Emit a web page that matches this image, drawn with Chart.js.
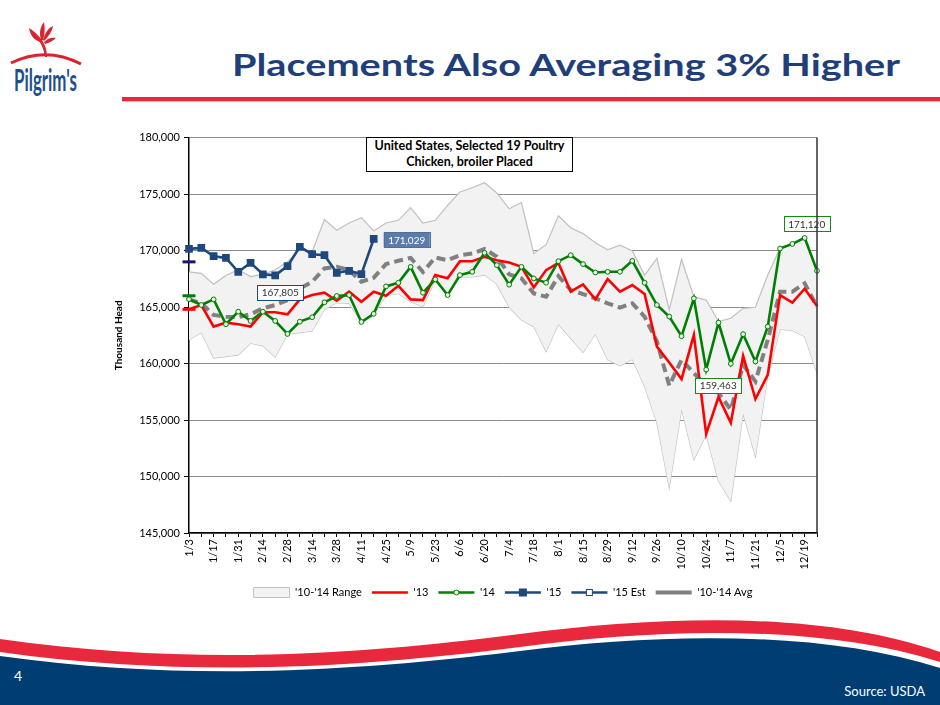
<!DOCTYPE html>
<html>
<head>
<meta charset="utf-8">
<script src="https://cdn.jsdelivr.net/npm/chart.js@4.4.0/dist/chart.umd.min.js"></script>
<style>
  body { margin: 0; width: 940px; height: 705px; background: #fff; position: relative; overflow: hidden; font-family: Lato, "Open Sans", sans-serif; }
  #wrap { position: absolute; left: 100px; top: 127px; width: 740px; height: 490px; }
  #box { position: absolute; left: 366px; top: 137px; width: 205px; height: 33px; border: 1px solid #000; background: #fff;
         font: bold 12.5px Lato, sans-serif; text-align: center; line-height: 16px; color: #000; }
  svg { position: absolute; left: 0; }
</style>
</head>
<body>
<svg width="940" height="110" style="top:0">
  <path d="M11,63 Q46,46 81,64" stroke="#d9242f" stroke-width="3" fill="none"/>
  <path d="M45,57 C44,50 42,45 39,41 L42,40 C45,45 47,50 47,57 Z" fill="#d9242f"/>
  <path d="M40,42 C34,40 30,35 29,28 C34,31 38,35 42,40 Z" fill="#d9242f"/>
  <path d="M41,40 C39,33 40,27 44,22 C45,28 45,34 43,40 Z" fill="#d9242f"/>
  <path d="M43,40 C45,33 48,28 53,26 C52,32 48,37 44,41 Z" fill="#d9242f"/>
  <path d="M44,42 C48,38 52,37 56,38 C53,41 49,43 45,44 Z" fill="#d9242f"/>
  <text x="14" y="91" font-family="Lato, sans-serif" font-weight="bold" font-size="31" fill="#1f4e8c" textLength="63" lengthAdjust="spacingAndGlyphs">Pilgrim's</text>
  <text x="232" y="76" font-family="Lato, sans-serif" font-weight="bold" font-size="30" fill="#1f3f7a" textLength="668" lengthAdjust="spacingAndGlyphs">Placements Also Averaging 3% Higher</text>
  <rect x="122" y="97" width="818" height="4" fill="#e8283c"/>
  <rect x="122" y="101" width="818" height="1" fill="#f5b5bd"/>
</svg>
<svg width="940" height="90" style="top:615px" viewBox="0 615 940 90">
  <path d="M0,639 C200,668 380,652 520,634 C660,616 820,610 940,652 L940,662 C820,624 660,628 520,647 C380,665 200,680 0,652 Z" fill="#e8283c"/>
  <path d="M0,656 C200,684 380,668 520,651 C660,633 820,630 940,668 L940,705 L0,705 Z" fill="#003d73"/>
  <text x="14" y="681" font-family="Lato, sans-serif" font-size="14" fill="#fff">4</text>
  <text x="925" y="696" text-anchor="end" font-family="Lato, sans-serif" font-size="13" fill="#fff">Source:  USDA</text>
</svg>
<div id="wrap"><canvas id="placements"></canvas></div>
<div id="box">United States, Selected 19 Poultry<br>Chicken, broiler Placed</div>
<script>
var weeks = ["1/3","1/10","1/17","1/24","1/31","2/7","2/14","2/21","2/28","3/7","3/14","3/21","3/28","4/4","4/11","4/18",
  "4/25","5/2","5/9","5/16","5/23","5/30","6/6","6/13","6/20","6/27","7/4","7/11","7/18","7/25","8/1","8/8","8/15","8/22",
  "8/29","9/5","9/12","9/19","9/26","10/3","10/10","10/17","10/24","10/31","11/7","11/14","11/21","11/28","12/5","12/12","12/19","12/26"];

var rangeHigh = [168120,167980,167030,167800,168300,167700,167900,168300,169000,170100,169900,172740,171800,172440,172910,171740,
  172440,172680,173800,172440,172680,174000,175180,175560,176000,175100,173700,174250,169740,170520,173080,172020,171500,170700,
  170070,170470,169960,167830,169300,164740,169210,165910,165620,163710,164010,164890,164980,167830,170200,170600,171120,168210];
var rangeLow = [162100,162740,160480,160620,160770,161800,161570,160570,162620,162740,162890,164800,165390,165330,163680,164360,
  166000,166210,165480,165030,167390,166060,167680,167680,167830,167030,165000,163860,163270,161060,163500,162240,160990,162620,
  160330,159800,160390,157980,154750,149020,155980,151510,153720,149600,147830,155570,151800,158900,163040,162920,162390,159160];
var y2013 = [164800,165180,163270,163620,163480,163270,164540,164540,164360,165680,166060,166270,165560,166360,165470,166360,
  166000,166880,165680,165620,167830,167540,169060,169060,169450,169150,168950,168560,166740,168270,168910,166360,167010,165680,
  167480,166360,166950,166150,161500,160100,158630,162540,153780,157040,154750,160680,156860,159000,166060,165390,166620,165100];
var y2014 = [165700,165180,165680,163480,164590,163770,164590,163770,162620,163710,164100,165420,165980,166060,163680,164400,
  166830,167150,168560,166270,167450,166060,167830,168120,169800,168710,166980,168560,167540,167150,169060,169590,168800,168060,
  168120,168120,169090,167150,165180,164160,162420,165770,159463,163620,159980,162600,160180,163270,170180,170590,171120,168210];
var y2015 = [170150,170240,169500,169350,168120,168910,167900,167805,168620,170330,169680,169590,168030,168210,167920,171029];
var avg1014 = [165680,165330,164300,164150,164100,164360,164890,165180,165620,166650,167240,168420,168560,168270,167240,167600,
  168800,169100,169350,168100,169390,169150,169590,169740,170150,169450,167900,167540,166210,165910,167740,166510,166150,165770,
  165330,164950,165330,164150,161950,158050,160330,159160,157980,157390,155920,159890,158420,162100,166360,166360,167100,165030];
var est2015 = [169000];
var stub2013 = [164800];
var stub2014 = [166000];
var yTicks = [145000, 180000, 5000];

var FONT = 'Lato, "Open Sans", sans-serif';

var labelBoxes = {
  id: 'labelBoxes',
  afterDatasetsDraw: function(chart) {
    var specs = [
      {ds: 4, i: 7, dx: 5, dy: 17, text: '167,805', border: '#1f497d', fill: '#fff', color: '#333'},
      {ds: 4, i: 15, dx: 33, dy: 1, text: '171,029', border: '#4f6e9c', fill: '#5b7bab', color: '#fff'},
      {ds: 3, i: 50, dx: 2, dy: -14, text: '171,120', border: '#138a13', fill: '#fff', color: '#333'},
      {ds: 3, i: 42, dx: 12, dy: 16, text: '159,463', border: '#138a13', fill: '#fff', color: '#333'}
    ];
    var ctx = chart.ctx;
    ctx.save();
    ctx.font = '10px ' + FONT;
    specs.forEach(function(s) {
      var pt = chart.getDatasetMeta(s.ds).data[s.i];
      var w = ctx.measureText(s.text).width + 9, h = 15;
      var cx = pt.x + s.dx, cy = pt.y + s.dy;
      ctx.fillStyle = s.fill;
      ctx.fillRect(cx - w / 2, cy - h / 2, w, h);
      ctx.strokeStyle = s.border;
      ctx.lineWidth = 1;
      ctx.strokeRect(Math.round(cx - w / 2) + 0.5, Math.round(cy - h / 2) + 0.5, Math.round(w), h);
      ctx.fillStyle = s.color;
      ctx.textAlign = 'center';
      ctx.textBaseline = 'middle';
      ctx.fillText(s.text, cx, cy + 0.5);
    });
    ctx.restore();
  }
};

var legendMarks = {
  id: 'legendMarks',
  afterDraw: function(chart) {
    var lg = chart.legend, ctx = chart.ctx;
    ctx.save();
    lg.legendItems.forEach(function(item, k) {
      var hb = lg.legendHitBoxes[k];
      var x = hb.left + 18, y = hb.top + hb.height / 2;
      if (item.text === "'14") {
        ctx.beginPath(); ctx.arc(x, y, 2.5, 0, Math.PI * 2);
        ctx.fillStyle = '#e6f2e6'; ctx.fill(); ctx.strokeStyle = '#008000'; ctx.lineWidth = 1; ctx.stroke();
      } else if (item.text === "'15") {
        ctx.fillStyle = '#1f497d'; ctx.fillRect(x - 4, y - 4, 8, 8);
      } else if (item.text === "'15 Est") {
        ctx.fillStyle = '#fff'; ctx.fillRect(x - 3, y - 3, 6, 6);
        ctx.strokeStyle = '#1f497d'; ctx.lineWidth = 1; ctx.strokeRect(x - 3, y - 3, 6, 6);
      }
    });
    ctx.restore();
  }
};

var ctx = document.getElementById('placements').getContext('2d');
var myChart = new Chart(ctx, {
  type: 'line',
  data: {
    labels: weeks,
    datasets: [
      {label: "'10-'14 Range", data: rangeHigh, fill: '+1', backgroundColor: '#f2f2f2', borderColor: '#c0c0c0',
        borderWidth: 1.2, pointRadius: 0, tension: 0, order: 10},
      {label: 'low', data: rangeLow, fill: false, backgroundColor: '#f2f2f2', borderColor: '#c0c0c0',
        borderWidth: 1.2, pointRadius: 0, tension: 0, order: 11},
      {label: "'13", data: y2013, borderColor: '#ff0000', backgroundColor: '#ff0000', borderWidth: 2.6,
        pointRadius: 0, fill: false, order: 3},
      {label: "'14", data: y2014, borderColor: '#008000', backgroundColor: '#008000', borderWidth: 2.6,
        pointRadius: 2.4, pointBorderWidth: 1, pointBackgroundColor: '#e6f2e6', pointBorderColor: '#008000', fill: false, order: 2},
      {label: "'15", data: y2015, borderColor: '#1f497d', backgroundColor: '#1f497d', borderWidth: 2.6,
        pointStyle: 'rect', pointRadius: 3.6, pointBackgroundColor: '#1f497d', pointBorderColor: '#1f497d', fill: false, order: 0},
      {label: "'15 Est", data: est2015, borderColor: '#1f497d', backgroundColor: '#1f497d', borderWidth: 2.6,
        pointStyle: 'line', pointRadius: 6.5, pointBorderWidth: 3, pointBorderColor: '#16167a', fill: false, clip: false, order: 1},
      {label: "'10-'14 Avg", data: avg1014, borderColor: '#808080', backgroundColor: '#808080', borderWidth: 4,
        borderDash: [9, 5], pointRadius: 0, fill: false, order: 4},
      {label: 'stub13', data: stub2013, borderColor: '#ff0000', pointStyle: 'line', pointRadius: 6.5, pointBorderWidth: 3,
        pointBorderColor: '#ff0000', clip: false, order: 1},
      {label: 'stub14', data: stub2014, borderColor: '#008000', pointStyle: 'line', pointRadius: 6.5, pointBorderWidth: 3,
        pointBorderColor: '#008000', clip: false, order: 1}
    ]
  },
  options: {
    responsive: true,
    maintainAspectRatio: false,
    animation: false,
    layout: {padding: {left: 13, top: 10, right: 23, bottom: 9}},
    elements: {line: {tension: 0}},
    plugins: {
      tooltip: {enabled: false},
      legend: {
        position: 'bottom',
        fullSize: false,
        labels: {
          usePointStyle: true,
          pointStyleWidth: 36,
          boxHeight: 10,
          padding: 10,
          color: '#000',
          font: {family: FONT, size: 11},
          filter: function(item) { return ['low', 'stub13', 'stub14'].indexOf(item.text) < 0; },
          sort: function(a, b) { return a.datasetIndex - b.datasetIndex; },
          generateLabels: function(chart) {
            var items = Chart.defaults.plugins.legend.labels.generateLabels(chart);
            items.forEach(function(it) {
              var ds = chart.data.datasets[it.datasetIndex];
              it.pointStyle = it.datasetIndex === 0 ? 'rect' : 'line';
              it.lineWidth = it.datasetIndex === 0 ? 1 : (ds.borderWidth >= 4 ? 4 : 2.6);
              it.strokeStyle = ds.borderColor;
              it.fillStyle = ds.backgroundColor;
            });
            return items;
          }
        }
      }
    },
    scales: {
      x: {
        offset: false,
        grid: {drawOnChartArea: false, drawTicks: true, tickLength: 4, color: '#000'},
        border: {color: '#000', width: 1.5},
        afterFit: function(s) { s.height = 44; },
        ticks: {
          autoSkip: false, maxRotation: 90, minRotation: 90, color: '#000', padding: 2,
          font: {family: FONT, size: 11},
          callback: function(v, i) { return i % 2 === 0 ? weeks[i] : ''; }
        }
      },
      y: {
        min: yTicks[0], max: yTicks[1],
        afterFit: function(s) { s.width = 76; },
        grid: {color: '#8c8c8c', lineWidth: 1, tickLength: 5, tickColor: '#000'},
        border: {color: '#000', width: 1.5},
        title: {display: true, text: 'Thousand Head', color: '#000', font: {family: FONT, size: 10, weight: 'bold'}, padding: 0},
        ticks: {
          stepSize: yTicks[2], color: '#000', padding: 4,
          font: {family: FONT, size: 11},
          callback: function(v) { return v.toLocaleString('en-US'); }
        }
      }
    }
  },
  plugins: [labelBoxes, legendMarks, {
    id: 'rightEdge',
    afterDraw: function(chart) {
      var a = chart.chartArea, c = chart.ctx;
      c.save(); c.strokeStyle = '#333'; c.lineWidth = 1.5;
      c.beginPath(); c.moveTo(a.right, a.top); c.lineTo(a.right, a.bottom); c.stroke();
      c.restore();
    }
  }]
});
</script>
</body>
</html>
